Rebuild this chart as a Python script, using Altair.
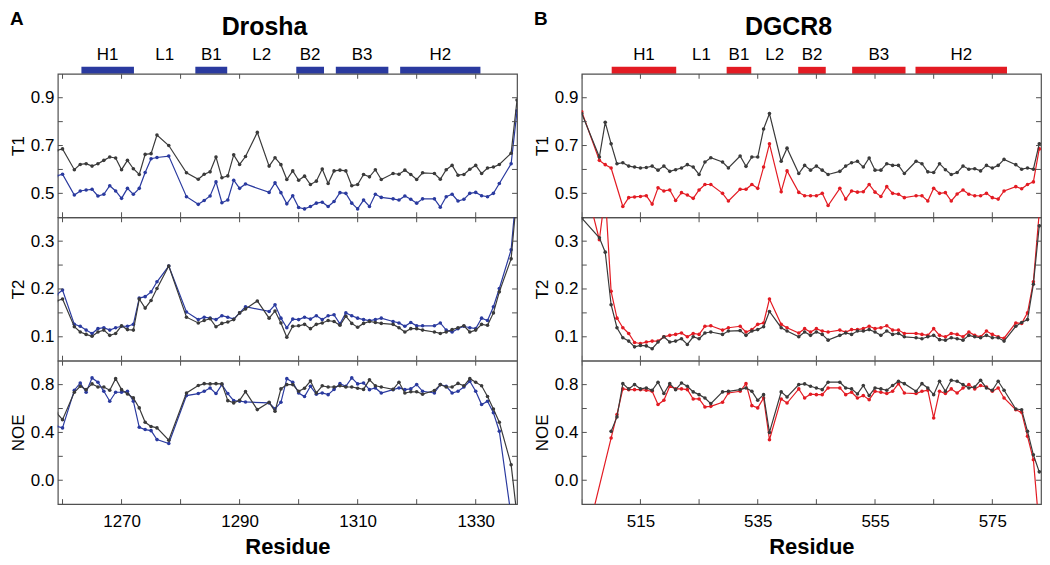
import altair as alt
import pandas as pd

# ---------------- data ----------------
DROSHA_RES = [1259, 1260, 1262, 1263, 1264, 1265, 1266, 1267, 1268, 1269, 1270, 1271, 1272, 1273, 1274,
              1275, 1276, 1278, 1281, 1283, 1284, 1285, 1286, 1287, 1288, 1289, 1290, 1291, 1293, 1295,
              1296, 1297, 1298, 1299, 1300, 1301, 1302, 1303, 1304, 1305, 1306, 1307, 1308, 1309, 1310,
              1311, 1312, 1313, 1314, 1316, 1317, 1318, 1319, 1320, 1321, 1323, 1324, 1325, 1326, 1327,
              1328, 1329, 1330, 1331, 1332, 1333, 1334, 1336, 1337]

DROSHA_T1_GRAY = [0.679, 0.686, 0.599, 0.621, 0.624, 0.614, 0.624, 0.638, 0.652, 0.648, 0.599, 0.638, 0.603,
                  0.579, 0.663, 0.666, 0.744, 0.700, 0.586, 0.559, 0.580, 0.590, 0.652, 0.565, 0.573, 0.661,
                  0.621, 0.654, 0.755, 0.614, 0.649, 0.620, 0.558, 0.594, 0.555, 0.572, 0.537, 0.551, 0.602,
                  0.541, 0.594, 0.597, 0.594, 0.532, 0.537, 0.579, 0.569, 0.599, 0.558, 0.583, 0.580, 0.597,
                  0.579, 0.558, 0.586, 0.583, 0.559, 0.599, 0.617, 0.576, 0.579, 0.601, 0.617, 0.583, 0.606,
                  0.610, 0.621, 0.668, 0.890]
DROSHA_T1_BLUE = [0.573, 0.580, 0.493, 0.510, 0.514, 0.517, 0.489, 0.496, 0.532, 0.510, 0.479, 0.521, 0.496,
                  0.521, 0.587, 0.645, 0.650, 0.656, 0.486, 0.454, 0.470, 0.489, 0.548, 0.461, 0.472, 0.555,
                  0.521, 0.539, None, 0.504, 0.544, 0.503, 0.456, 0.490, 0.441, 0.435, 0.445, 0.459, 0.463,
                  0.445, 0.466, 0.503, 0.500, 0.459, 0.435, 0.472, 0.445, 0.496, 0.483, 0.477, 0.472, 0.489,
                  0.475, 0.459, 0.477, 0.477, 0.442, 0.486, 0.496, 0.468, 0.475, 0.500, 0.504, 0.490, 0.486,
                  0.500, 0.541, 0.624, 0.845]
DROSHA_T2_GRAY = [0.175, 0.179, 0.121, 0.110, 0.105, 0.101, 0.110, 0.114, 0.103, 0.107, 0.123, 0.115, 0.114,
                  0.179, 0.160, 0.176, 0.201, 0.248, 0.141, 0.129, 0.134, 0.138, 0.121, 0.128, 0.131, 0.136,
                  0.150, 0.158, 0.175, 0.139, 0.154, 0.129, 0.099, 0.122, 0.123, 0.126, 0.117, 0.126, 0.129,
                  0.134, 0.132, 0.124, 0.143, 0.128, 0.120, 0.128, 0.132, 0.130, 0.128, 0.126, 0.119, 0.110,
                  0.117, 0.117, 0.114, 0.110, 0.107, 0.110, 0.115, 0.119, 0.123, 0.110, 0.114, 0.126, 0.124,
                  0.150, 0.194, 0.263, 0.400]
DROSHA_T2_BLUE = [0.188, 0.198, 0.126, 0.122, 0.114, 0.107, 0.117, 0.119, 0.114, 0.119, 0.122, 0.122, 0.126,
                  0.181, 0.184, 0.194, 0.215, 0.248, 0.152, 0.136, 0.141, 0.139, 0.136, 0.144, 0.141, 0.137,
                  0.150, 0.163, None, 0.153, 0.167, 0.139, 0.119, 0.137, 0.136, 0.141, 0.137, 0.144, 0.136,
                  0.144, 0.146, 0.127, 0.150, 0.144, 0.139, 0.136, 0.134, 0.136, 0.139, 0.132, 0.129, 0.122,
                  0.130, 0.123, 0.123, 0.123, 0.129, 0.114, 0.110, 0.117, 0.122, 0.119, 0.117, 0.139, 0.134,
                  0.163, 0.201, 0.282, 0.420]
DROSHA_NOE_GRAY = [0.563, 0.507, 0.736, 0.786, 0.758, 0.806, 0.780, 0.780, 0.753, 0.850, 0.758, 0.722, 0.689,
                   0.605, 0.485, 0.450, 0.438, 0.335, 0.730, 0.792, 0.808, 0.806, 0.808, 0.806, 0.666, 0.647,
                   0.669, 0.741, 0.591, 0.652, 0.577, 0.764, 0.800, 0.800, 0.744, 0.770, 0.830, 0.730, 0.790,
                   0.780, 0.780, 0.790, 0.780, 0.780, 0.770, 0.760, 0.840, 0.790, 0.780, 0.760, 0.820, 0.730,
                   0.740, 0.740, 0.720, 0.750, 0.800, 0.780, 0.780, 0.810, 0.790, 0.850, 0.820, 0.790, 0.700,
                   0.596, 0.485, 0.130, -0.300]
DROSHA_NOE_BLUE = [0.452, 0.438, 0.753, 0.814, 0.736, 0.856, 0.820, 0.744, 0.661, 0.736, 0.736, 0.744, 0.661,
                   0.443, 0.424, 0.415, 0.340, 0.307, 0.708, 0.725, 0.744, 0.772, 0.725, 0.800, 0.725, 0.666,
                   0.661, 0.655, None, 0.647, 0.597, 0.652, 0.850, 0.820, 0.730, 0.700, 0.786, 0.720, 0.730,
                   0.716, 0.760, 0.808, 0.786, 0.856, 0.806, 0.814, 0.758, 0.772, 0.730, 0.758, 0.772, 0.758,
                   0.764, 0.800, 0.744, 0.730, 0.800, 0.786, 0.730, 0.744, 0.780, 0.828, 0.744, 0.633, 0.661,
                   0.564, 0.410, -0.300, None]

DGCR8_RES = [505, 506, 508, 509, 510, 511, 512, 513, 514, 515, 516, 517, 518, 519, 520, 521, 522, 523, 524,
             525, 526, 527, 529, 530, 532, 533, 534, 535, 536, 537, 539, 540, 542, 543, 544, 545, 546, 547,
             549, 550, 551, 552, 553, 554, 555, 556, 557, 558, 559, 560, 562, 563, 564, 565, 566, 567, 568,
             569, 570, 571, 572, 573, 574, 575, 576, 577, 579, 580, 581, 582, 583]

DGCR8_T1_GRAY = [0.834, None, 0.652, 0.797, 0.707, 0.624, 0.628, 0.614, 0.610, 0.606, 0.608, 0.614, 0.597,
                 0.614, 0.592, 0.599, 0.606, 0.620, 0.610, 0.579, 0.631, 0.649, 0.631, 0.606, 0.656, 0.613,
                 0.652, 0.652, 0.769, 0.834, 0.634, 0.689, 0.583, 0.617, 0.597, 0.614, 0.597, 0.579, 0.592,
                 0.614, 0.628, 0.634, 0.610, 0.648, 0.597, 0.597, 0.624, 0.617, 0.617, 0.583, 0.634, 0.624,
                 0.590, 0.587, 0.624, 0.599, 0.579, 0.587, 0.614, 0.601, 0.603, 0.594, 0.617, 0.606, 0.617,
                 0.642, 0.620, 0.601, 0.606, 0.601, 0.707]
DGCR8_T1_RED = [0.841, None, 0.638, 0.620, 0.606, None, 0.445, 0.482, 0.485, 0.487, 0.490, 0.455, 0.523,
                0.510, 0.514, 0.470, 0.503, 0.493, 0.479, 0.514, 0.537, 0.537, 0.500, 0.468, 0.517, 0.517,
                0.537, 0.521, 0.610, 0.707, 0.507, 0.594, 0.504, 0.490, 0.490, 0.490, 0.500, 0.449, 0.521,
                0.476, 0.510, 0.505, 0.507, 0.537, 0.505, 0.487, 0.528, 0.500, 0.496, 0.482, 0.490, 0.490,
                0.468, 0.521, 0.500, 0.503, 0.468, 0.497, 0.514, 0.496, 0.490, 0.490, 0.500, 0.482, 0.476,
                0.510, 0.528, 0.519, 0.537, 0.548, 0.686]
DGCR8_T2_GRAY = [0.348, None, 0.307, 0.277, 0.167, 0.119, 0.098, 0.091, 0.079, 0.082, 0.081, 0.075, 0.089,
                 0.100, 0.089, 0.091, 0.096, 0.084, 0.100, 0.096, 0.108, 0.110, 0.105, 0.112, 0.113, 0.103,
                 0.112, 0.115, 0.121, 0.153, 0.119, 0.112, 0.100, 0.110, 0.103, 0.110, 0.105, 0.093, 0.103,
                 0.108, 0.105, 0.112, 0.112, 0.115, 0.110, 0.103, 0.112, 0.105, 0.107, 0.100, 0.098, 0.096,
                 0.100, 0.103, 0.094, 0.093, 0.098, 0.096, 0.093, 0.103, 0.100, 0.098, 0.103, 0.098, 0.098,
                 0.091, 0.122, 0.130, 0.136, 0.210, 0.332]
DGCR8_T2_RED = [None, 0.400, 0.303, 0.400, 0.195, 0.139, 0.119, 0.107, 0.088, 0.086, 0.089, 0.091, 0.091,
                0.100, 0.103, 0.105, 0.108, 0.100, 0.107, 0.105, 0.122, 0.123, 0.114, 0.119, 0.122, 0.110,
                0.115, 0.126, 0.129, 0.179, 0.126, 0.119, 0.108, 0.117, 0.110, 0.117, 0.112, 0.110, 0.114,
                0.110, 0.115, 0.115, 0.117, 0.122, 0.117, 0.119, 0.123, 0.114, 0.114, 0.107, 0.107, 0.105,
                0.103, 0.117, 0.103, 0.100, 0.107, 0.105, 0.100, 0.110, 0.103, 0.100, 0.112, 0.105, 0.100,
                0.097, 0.129, 0.128, 0.150, 0.215, 0.360]
DGCR8_NOE_GRAY = [None, None, None, None, 0.409, 0.530, 0.808, 0.764, 0.800, 0.764, 0.772, 0.753, 0.820,
                  0.725, 0.808, 0.758, 0.814, 0.786, 0.739, 0.716, 0.688, 0.641, 0.739, 0.744, 0.758, 0.772,
                  0.744, 0.669, 0.716, 0.400, 0.739, 0.697, 0.800, 0.806, 0.786, 0.772, 0.758, 0.820, 0.820,
                  0.772, 0.764, 0.722, 0.792, 0.708, 0.772, 0.764, 0.753, 0.792, 0.828, 0.808, 0.744, 0.808,
                  0.772, 0.716, 0.828, 0.744, 0.836, 0.828, 0.800, 0.772, 0.780, 0.836, 0.772, 0.753, 0.828,
                  0.753, 0.596, 0.590, 0.409, 0.213, 0.070]
DGCR8_NOE_RED = [None, -0.450, None, None, 0.353, 0.550, 0.764, 0.758, 0.758, 0.758, 0.753, 0.744, 0.633,
                 0.669, 0.786, 0.764, 0.764, 0.758, 0.680, 0.680, 0.613, 0.618, 0.652, 0.730, 0.744, 0.808,
                 0.624, 0.605, 0.688, 0.339, 0.680, 0.646, 0.764, 0.688, 0.720, 0.716, 0.716, 0.772, 0.772,
                 0.716, 0.736, 0.688, 0.708, 0.674, 0.744, 0.736, 0.725, 0.744, 0.808, 0.730, 0.725, 0.744,
                 0.753, 0.521, 0.744, 0.725, 0.764, 0.730, 0.772, 0.800, 0.764, 0.792, 0.780, 0.744, 0.772,
                 0.688, 0.590, 0.568, 0.367, 0.172, -0.400]

SS_NAMES = ["H1", "L1", "B1", "L2", "B2", "B3", "H2"]
SS_IS_BAR = [True, False, True, False, True, True, True]
DROSHA_SS_START = [1263.2, 1272.1, 1282.5, 1287.9, 1299.6, 1306.3, 1317.2]
DROSHA_SS_END = [1272.1, 1282.5, 1287.9, 1299.6, 1304.3, 1315.2, 1330.8]
DGCR8_SS_START = [510.1, 521.1, 529.7, 533.9, 541.9, 551.1, 561.9]
DGCR8_SS_END = [521.1, 529.7, 533.9, 541.9, 546.6, 560.2, 577.5]

DROSHA_XTICKS = [1260, 1270, 1280, 1290, 1300, 1310, 1320, 1330]
DROSHA_XLABELS = [1270, 1290, 1310, 1330]
DGCR8_XTICKS = [505, 515, 525, 535, 545, 555, 565, 575]
DGCR8_XLABELS = [515, 535, 555, 575]

T1_TICKS = [0.5, 0.6, 0.7, 0.8, 0.9]
T1_LABELS = [0.5, 0.7, 0.9]
T2_TICKS = [0.1, 0.15, 0.2, 0.25, 0.3]
T2_LABELS = [0.1, 0.2, 0.3]
NOE_TICKS = [0.0, 0.2, 0.4, 0.6, 0.8]
NOE_LABELS = [0.0, 0.4, 0.8]

# ---------------- style ----------------
W = 461
H = 144
TOP_H = 35
FONT = "Liberation Sans"
GRAY = "#3a3a3a"
BLUE = "#2a3a9f"
RED = "#e31b23"
BORDER = "#505050"


def series_df(res, vals):
    return pd.DataFrame([{"res": r, "val": v} for r, v in zip(res, vals) if v is not None])


def panel(res, gray, colored, color, xdom, ydom, xticks, yticks, ylabels, ytitle, xlabels=None):
    assert len(res) == len(gray) == len(colored), (len(res), len(gray), len(colored))
    xscale = alt.Scale(domain=xdom, nice=False, zero=False)
    yscale = alt.Scale(domain=ydom, nice=False, zero=False)
    if xlabels is None:
        xaxis = None
    else:
        xaxis = alt.Axis(values=xlabels, format="d", labelPadding=9, title="Residue",
                         titleFontSize=22, titleFontWeight="bold", titlePadding=8)
    yaxis = alt.Axis(values=ylabels, format=".1f", title=ytitle, labelPadding=4, titlePadding=3)
    X = alt.X("res:Q", scale=xscale, axis=xaxis)
    Y = alt.Y("val:Q", scale=yscale, axis=yaxis)
    layers = []
    for vals, c in ((colored, color), (gray, GRAY)):
        base = alt.Chart(series_df(res, vals)).encode(x=X, y=Y)
        layers.append(base.mark_line(clip=True, color=c, strokeWidth=1.2))
        layers.append(base.mark_circle(clip=True, color=c, size=13, opacity=1))
    xt = alt.Chart(pd.DataFrame({"res": xticks}))
    layers.append(xt.mark_rule(color=BORDER, strokeWidth=1, clip=True).encode(
        x=X, y=alt.value(0), y2=alt.value(5)))
    layers.append(xt.mark_rule(color=BORDER, strokeWidth=1, clip=True).encode(
        x=X, y=alt.value(H - 5), y2=alt.value(H)))
    yt = alt.Chart(pd.DataFrame({"val": yticks}))
    layers.append(yt.mark_rule(color=BORDER, strokeWidth=1, clip=True).encode(
        y=Y, x=alt.value(0), x2=alt.value(5)))
    layers.append(yt.mark_rule(color=BORDER, strokeWidth=1, clip=True).encode(
        y=Y, x=alt.value(W - 5), x2=alt.value(W)))
    return alt.layer(*layers).properties(width=W, height=H)


def top_chart(starts, ends, color, xdom, title, letter):
    df = pd.DataFrame({"name": SS_NAMES, "start": starts, "end": ends, "bar": SS_IS_BAR})
    xscale = alt.Scale(domain=xdom, nice=False, zero=False)
    base = alt.Chart(df)
    bars = base.transform_filter(alt.datum.bar).mark_rect(color=color).encode(
        x=alt.X("start:Q", scale=xscale, axis=None), x2="end:Q",
        y=alt.value(28), y2=alt.value(TOP_H))
    labels = base.transform_calculate(mid="(datum.start + datum.end) / 2").mark_text(
        fontSize=17, font=FONT, baseline="middle", color="black").encode(
        x=alt.X("mid:Q", scale=xscale, axis=None), y=alt.value(16), text="name:N")
    ttl = alt.Chart(pd.DataFrame({"t": [title]})).mark_text(
        fontSize=25, fontWeight="bold", font=FONT, baseline="alphabetic", color="black").encode(
        x=alt.value(W / 2 - 23), y=alt.value(-4), text="t:N")
    let = alt.Chart(pd.DataFrame({"t": [letter]})).mark_text(
        fontSize=19, fontWeight="bold", font=FONT, baseline="top", align="left", color="black").encode(
        x=alt.value(-48), y=alt.value(-29), text="t:N")
    return alt.layer(bars, labels, ttl, let).properties(
        width=W, height=TOP_H, view=alt.ViewBackground(stroke="transparent"))


def column(res, t1g, t1c, t2g, t2c, ng, nc, color, xdom, xticks, xlabels, ss_start, ss_end, title, letter):
    top = top_chart(ss_start, ss_end, color, xdom, title, letter)
    p1 = panel(res, t1g, t1c, color, xdom, [0.4, 1.0], xticks, T1_TICKS, T1_LABELS, "T1")
    p2 = panel(res, t2g, t2c, color, xdom, [0.05, 0.35], xticks, T2_TICKS, T2_LABELS, "T2")
    p3 = panel(res, ng, nc, color, xdom, [-0.2, 1.0], xticks, NOE_TICKS, NOE_LABELS, "NOE", xlabels=xlabels)
    return alt.vconcat(top, p1, p2, p3, spacing=0, bounds="flush")


colA = column(DROSHA_RES, DROSHA_T1_GRAY, DROSHA_T1_BLUE, DROSHA_T2_GRAY, DROSHA_T2_BLUE,
              DROSHA_NOE_GRAY, DROSHA_NOE_BLUE, BLUE, [1259.2, 1337], DROSHA_XTICKS, DROSHA_XLABELS,
              DROSHA_SS_START, DROSHA_SS_END, "Drosha", "A")
colB = column(DGCR8_RES, DGCR8_T1_GRAY, DGCR8_T1_RED, DGCR8_T2_GRAY, DGCR8_T2_RED,
              DGCR8_NOE_GRAY, DGCR8_NOE_RED, RED, [505, 583.3], DGCR8_XTICKS, DGCR8_XLABELS,
              DGCR8_SS_START, DGCR8_SS_END, "DGCR8", "B")

chart = alt.hconcat(colA, colB, spacing=14).properties(padding=0).configure(font=FONT).configure_view(
    stroke=BORDER, strokeWidth=1.2).configure_axis(
    labelFont=FONT, labelFontSize=17, labelColor="black", titleFont=FONT, titleFontSize=17,
    titleFontWeight="normal", titleColor="black", grid=False, ticks=False, domain=False)

chart.save("out.html", embed_options={"renderer": "svg", "actions": False})
